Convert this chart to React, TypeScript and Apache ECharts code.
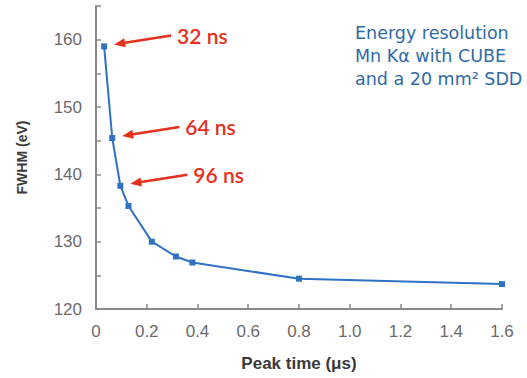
import React, { useEffect, useRef } from "react";
import * as echarts from "echarts";

const peakTimes = [0.032, 0.064, 0.096, 0.128, 0.22, 0.315, 0.38, 0.8, 1.6];
const fwhm = [159.0, 145.4, 138.3, 135.3, 130.0, 127.8, 126.9, 124.5, 123.7];
const annotations = ["32 ns", "64 ns", "96 ns"];
const noteLines = ["Energy resolution", "Mn K\u03b1 with CUBE", "and a 20 mm\u00b2 SDD"];

export default function App() {
  const ref = useRef<HTMLDivElement>(null);
  useEffect(() => {
    if (!ref.current) return;
    const chart = echarts.init(ref.current, null, { renderer: "svg" });
    const axisGrey = "#8a8a8a";
    const labelFont = "Liberation Sans, Arial";
    chart.setOption({
      animation: false,
      grid: { left: 96, right: 25, top: 6, bottom: 69 },
      xAxis: {
        type: "value",
        min: 0,
        max: 1.6,
        interval: 0.2,
        name: "Peak time (\u03bcs)",
        nameLocation: "middle",
        nameGap: 46,
        nameTextStyle: { fontFamily: labelFont, fontSize: 17, fontWeight: "bold", color: "#3a3a3a" },
        axisLine: { lineStyle: { color: axisGrey, width: 2 } },
        axisTick: { inside: true, length: 5, lineStyle: { color: axisGrey, width: 1.5 } },
        splitLine: { show: false },
        axisLabel: {
          margin: 14,
          fontFamily: labelFont,
          fontSize: 17,
          color: "#6a6a6a",
          formatter: (v: number) => (v === 0 ? "0" : v.toFixed(1)),
        },
      },
      yAxis: {
        type: "value",
        min: 120,
        max: 165,
        interval: 5,
        name: "FWHM (eV)",
        nameLocation: "middle",
        nameGap: 67,
        nameTextStyle: { fontFamily: labelFont, fontSize: 14, fontWeight: "bold", color: "#3a3a3a" },
        axisLine: { show: true, lineStyle: { color: axisGrey, width: 2 } },
        axisTick: { show: true, inside: true, length: 5, lineStyle: { color: axisGrey, width: 1.5 } },
        splitLine: { show: false },
        axisLabel: {
          margin: 14,
          fontFamily: labelFont,
          fontSize: 17,
          color: "#6a6a6a",
          formatter: (v: number) => (v % 10 === 0 ? String(v) : ""),
        },
      },
      series: [
        {
          type: "line",
          data: peakTimes.map((t, i) => [t, fwhm[i]]),
          symbol: "rect",
          symbolSize: 6,
          lineStyle: { color: "#2f72c4", width: 2 },
          itemStyle: { color: "#2f72c4" },
        },
      ],
    });

    const red = "#e5301c";
    const graphics: any[] = [];
    annotations.forEach((label, i) => {
      const [px, py] = chart.convertToPixel({ gridIndex: 0 }, [peakTimes[i], fwhm[i]]) as number[];
      const tip = [px + 10, py - 2];
      const tail = [px + 67, py - 11];
      const ang = Math.atan2(tail[1] - tip[1], tail[0] - tip[0]);
      const len = 11;
      const half = 4.5;
      const bx = tip[0] + Math.cos(ang) * len;
      const by = tip[1] + Math.sin(ang) * len;
      const nx = -Math.sin(ang) * half;
      const ny = Math.cos(ang) * half;
      graphics.push({
        type: "line",
        shape: { x1: bx, y1: by, x2: tail[0], y2: tail[1] },
        style: { stroke: red, lineWidth: 2.5 },
      });
      graphics.push({
        type: "polygon",
        shape: { points: [tip, [bx + nx, by + ny], [bx - nx, by - ny]] },
        style: { fill: red },
      });
      graphics.push({
        type: "text",
        x: px + 73,
        y: py - 11,
        style: {
          text: label,
          fill: red,
          font: "600 21px Lato, 'Open Sans', sans-serif",
          textVerticalAlign: "middle",
          verticalAlign: "middle",
        },
      });
    });
    noteLines.forEach((line, i) => {
      graphics.push({
        type: "text",
        x: 355,
        y: 33 + i * 23,
        style: {
          text: line,
          fill: "#2f6aa6",
          font: "17.5px 'DejaVu Sans', sans-serif",
          verticalAlign: "middle",
          textVerticalAlign: "middle",
        },
      });
    });
    chart.setOption({ graphic: graphics });
    return () => chart.dispose();
  }, []);
  return <div ref={ref} style={{ width: 527, height: 378, position: "absolute", left: 0, top: 0 }} />;
}
